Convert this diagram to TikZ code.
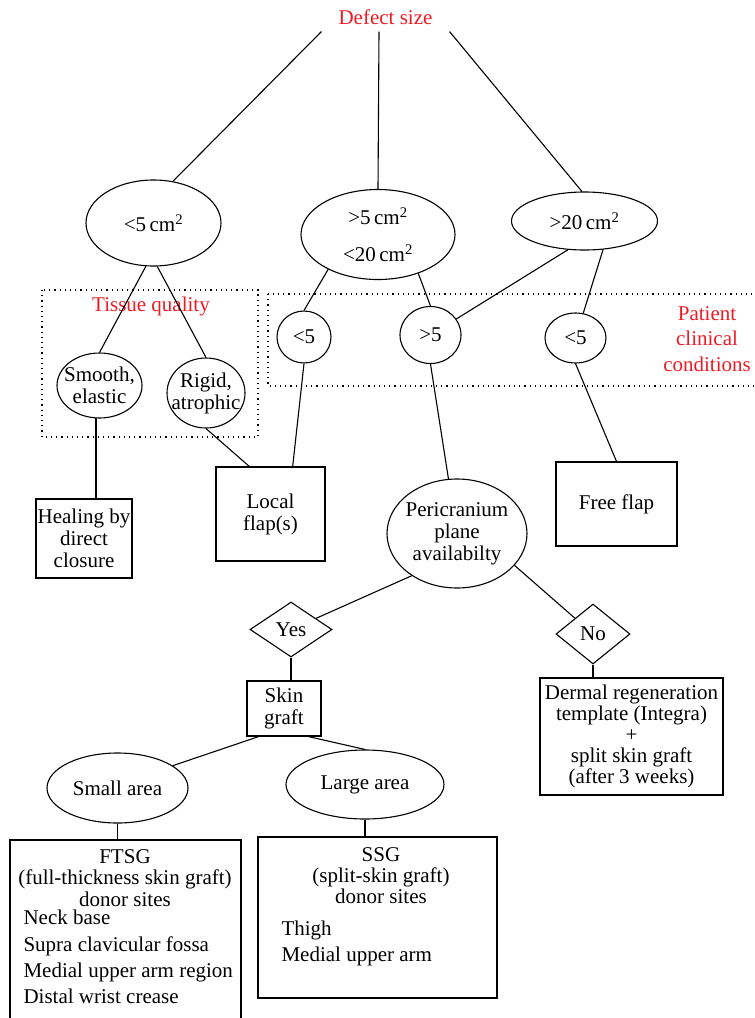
\documentclass[tikz,border=0pt]{standalone}
\usepackage{fontspec}
\setmainfont{Liberation Serif}
\usetikzlibrary{shapes.geometric}
\definecolor{labelred}{RGB}{237,28,36}

\begin{document}
\begin{tikzpicture}[x=1pt, y=-1pt, line width=1.1pt,
        font=\fontsize{21}{22}\selectfont,
        oval/.style={draw, ellipse, inner xsep=-8pt, inner ysep=-4pt, align=center},
        box/.style={draw, rectangle, inner sep=0pt, align=center},
        choice/.style={draw, diamond, inner sep=0pt, aspect=1.4},
        group/.style={dash pattern=on 1.2pt off 4pt, line width=1.2pt},
        redlabel/.style={text=labelred, align=center}]

        % Page size of the reference
        \useasboundingbox (0,0) rectangle (755,1018);
        \clip (0,0) rectangle (755,1018);

        % Dotted groups with their red titles
        \draw[group] (42,290) rectangle (258,437);
        \draw[group] (268,294) rectangle (790,386);
        \node[redlabel] (tissue) at (151,306) {Tissue quality};
        \node[redlabel, font=\fontsize{21}{25.5}\selectfont] (patient) at (707,339) {Patient\\clinical\\conditions};

        % Defect size and the three size classes
        \node[redlabel, minimum width=127pt, minimum height=28pt, inner sep=0pt] (defect) at (385.5,17) {Defect size};
        \node[oval, minimum width=135pt, minimum height=86pt] (small) at (153.5,223) {<5\,cm\textsuperscript{2}};
        \node[oval, minimum width=154pt, minimum height=90pt] (mid) at (378,234.5) {>5\,cm\textsuperscript{2}\\[15pt]<20\,cm\textsuperscript{2}};
        \node[oval, minimum width=146pt, minimum height=58pt] (large) at (584.5,221) {>20\,cm\textsuperscript{2}};

        % Tissue quality
        \node[oval, minimum width=85pt, minimum height=65pt] (smooth) at (99.5,385.5) {Smooth,\\elastic};
        \node[oval, minimum width=78pt, minimum height=70pt] (rigid) at (206,393) {Rigid,\\atrophic};

        % Patient clinical conditions
        \node[oval, minimum width=54pt, minimum height=52pt] (lowa) at (304,337) {<5};
        \node[oval, minimum width=61pt, minimum height=57pt] (high) at (430.5,335) {>5};
        \node[oval, minimum width=61pt, minimum height=50pt] (lowb) at (575.5,338) {<5};

        % Treatments
        \node[box, minimum width=96pt, minimum height=79pt] (heal) at (84,538.5) {Healing by\\direct\\closure};
        \node[box, minimum width=109pt, minimum height=94pt] (local) at (270.5,514) {Local\\flap(s)};
        \node[box, minimum width=121pt, minimum height=84pt] (free) at (616.5,504) {Free flap};
        \node[oval, minimum width=140pt, minimum height=109pt] (peri) at (457,533.5) {Pericranium\\plane\\availabilty};

        % Yes / No
        \node[choice, minimum width=82pt, minimum height=55pt] (yes) at (291,629.5) {Yes};
        \node[choice, minimum width=74pt, minimum height=60pt] (no) at (593,634) {No};
        \node[box, minimum width=74pt, minimum height=55pt] (skin) at (284,708.5) {Skin\\graft};
        \node[box, minimum width=183pt, minimum height=117pt, font=\fontsize{21}{21}\selectfont] (dermal) at (631.5,736.5)
            {Dermal regeneration\\template (Integra)\\+\\split skin graft\\(after 3 weeks)};

        % Graft areas
        \node[oval, minimum width=141pt, minimum height=70pt] (smallarea) at (117.5,788) {Small area};
        \node[oval, minimum width=158pt, minimum height=69pt] (largearea) at (365,784.5) {Large area};

        % Donor site boxes
        \node[box, minimum width=231pt, minimum height=200pt] (ftsg) at (125.5,940) {};
        \node[align=center, inner sep=0pt, font=\fontsize{21}{21.5}\selectfont] (ftsgtitle) at (125,878)
            {FTSG\\(full-thickness skin graft)\\donor sites};
        \node[anchor=west, align=left, inner sep=0pt, font=\fontsize{21}{26.3}\selectfont] (ftsglist) at (23,957)
            {Neck base\\Supra clavicular fossa\\Medial upper arm region\\Distal wrist crease};

        \node[box, minimum width=239pt, minimum height=161pt] (ssg) at (377.5,917.5) {};
        \node[align=center, inner sep=0pt, font=\fontsize{21}{21}\selectfont] (ssgtitle) at (381,876)
            {SSG\\(split-skin graft)\\donor sites};
        \node[anchor=west, align=left, inner sep=0pt, font=\fontsize{21}{26}\selectfont] (ssglist) at (281,943)
            {Thigh\\Medial upper arm};

        % Connectors
        \draw (defect.south west) -- (small.65);
        \draw ([xshift=-6.5pt]defect.south) -- (mid.north);
        \draw (defect.south east) -- (large.95);
        \draw (small.260) -- (smooth.north);
        \draw (small.275) -- (rigid.north);
        \draw (smooth.264) -- (smooth.264 |- heal.north);
        \draw (rigid.south) -- (local.114);
        \draw (mid.215) -- (lowa.north);
        \draw (lowa.south) -- (local.65);
        \draw (mid.316) -- (high.north);
        \draw (large.240) -- (high);
        \draw (large.303) -- (lowb);
        \draw (high.south) -- (peri);
        \draw (lowb.south) -- (free.north);
        \draw (peri.223) -- (yes);
        \draw (peri.331) -- (no);
        \draw (yes.south) -- (yes.south |- skin.north);
        \draw (no.south) -- (no.south |- dermal.north);
        \draw (skin.228) -- (smallarea.22);
        \draw (skin.311) -- (largearea.north);
        \draw (smallarea.south) -- (smallarea.south |- ftsg.north);
        \draw (largearea.south) -- (largearea.south |- ssg.north);

    \end{tikzpicture}
\end{document}
